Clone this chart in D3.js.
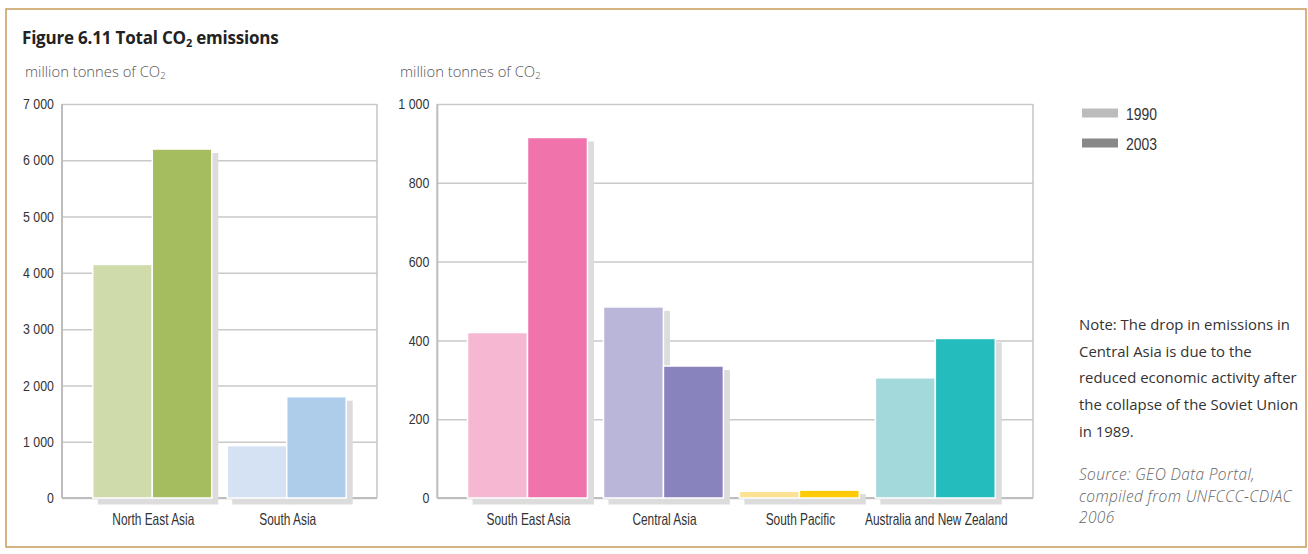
<!DOCTYPE html>
<html>
<head>
<meta charset="utf-8">
<script src="https://cdn.jsdelivr.net/npm/d3@7"></script>
<style>
  html, body { margin: 0; padding: 0; background: #fff; }
  svg { display: block; }
</style>
</head>
<body>
<svg id="chart" width="1308" height="554"></svg>
<script>
// ---- data ----
const seriesYears = ["1990", "2003"];
const leftCategories = ["North East Asia", "South Asia"];
const left1990 = [4150, 930];
const left2003 = [6200, 1800];
const leftTicks = [0, 1000, 2000, 3000, 4000, 5000, 6000, 7000];

const rightCategories = ["South East Asia", "Central Asia", "South Pacific", "Australia and New Zealand"];
const right1990 = [420, 485, 17, 305];
const right2003 = [915, 335, 20, 405];
const rightTicks = [0, 200, 400, 600, 800, 1000];

const leftColors1990 = ["#cfdbab", "#d4e2f3"];
const leftColors2003 = ["#a6bd5f", "#aecdeb"];
const rightColors1990 = ["#f5b7d2", "#bab6da", "#fde192", "#a3d9db"];
const rightColors2003 = ["#f073ab", "#8882bd", "#ffcb08", "#25bcbe"];
const legendColors = ["#bcbcbc", "#888888"];

const noteLines = ["Note: The drop in emissions in", "Central Asia is due to the",
  "reduced economic activity after", "the collapse of the Soviet Union", "in 1989."];
const sourceLines = ["Source: GEO Data Portal,", "compiled from UNFCCC-CDIAC", "2006"];

const fmt = v => d3.format(",")(v).replace(/,/g, " ");
const COND_FONT = "'Liberation Sans', Arial, sans-serif";
const GEO_FONT = "'Open Sans', sans-serif";

const svg = d3.select("#chart");

// measure helper for horizontal squeeze of condensed labels
function measure(text, size, family, weight) {
  const t = svg.append("text").attr("font-size", size).attr("font-family", family)
    .attr("font-weight", weight || "normal").text(text);
  const w = t.node().getComputedTextLength();
  t.remove();
  return w;
}
const TICK_SIZE = 14.5, CAT_SIZE = 16.5, LEG_SIZE = 17;
const K_TICK = 31 / measure("7 000", TICK_SIZE, COND_FONT);
const K_CAT = 82 / measure("North East Asia", CAT_SIZE, COND_FONT);
const K_LEG = 31 / measure("1990", LEG_SIZE, COND_FONT);

function condText(parent, x, y, txt, size, k, anchor) {
  return parent.append("text")
    .attr("transform", `translate(${x},${y}) scale(${k},1)`)
    .attr("font-family", COND_FONT).attr("font-size", size)
    .attr("text-anchor", anchor || "start").attr("fill", "#333").text(txt);
}

// frame
svg.append("rect").attr("x", 6).attr("y", 9).attr("width", 1300).attr("height", 538)
  .attr("fill", "none").attr("stroke", "#c99a5b").attr("stroke-width", 1.5);

// title
const title = svg.append("text").attr("x", 22).attr("y", 44)
  .attr("font-family", GEO_FONT).attr("font-weight", "bold")
  .attr("font-size", 17).attr("fill", "#222").attr("letter-spacing", -0.2);
title.append("tspan").text("Figure 6.11 Total CO");
title.append("tspan").text("2").attr("font-size", 11).attr("dy", 3);
title.append("tspan").text(" emissions").attr("dy", -3);

function subtitle(x) {
  const t = svg.append("text").attr("x", x).attr("y", 77)
    .attr("font-family", GEO_FONT).attr("font-size", 14.8).attr("font-weight", 300).attr("fill", "#555");
  t.append("tspan").text("million tonnes of CO");
  t.append("tspan").text("2").attr("font-size", 9.5).attr("dy", 2);
}
subtitle(25);
subtitle(400);

function panel(cfg) {
  const { x0, x1, cats, v90, v03, c90, c03, ticks, max, align, po, pi } = cfg;
  const yTop = 104, yBot = 498;
  const y = d3.scaleLinear().domain([0, max]).range([yBot, yTop]);
  const x = d3.scaleBand().domain(cats).range([x0, x1]).paddingInner(pi).paddingOuter(po).align(align);
  const xs = d3.scaleBand().domain(seriesYears).range([0, x.bandwidth()]);
  const g = svg.append("g");

  // gridlines
  g.append("g").attr("transform", `translate(${x0},0)`)
    .call(d3.axisLeft(y).tickValues(ticks).tickSize(-(x1 - x0)).tickFormat(""))
    .call(s => s.select(".domain").remove())
    .call(s => s.selectAll("line").attr("stroke", "#c9c9c9").attr("stroke-width", 1.5));
  // frame lines
  g.append("line").attr("x1", x1).attr("x2", x1).attr("y1", yTop).attr("y2", yBot)
    .attr("stroke", "#c4c4c4").attr("stroke-width", 1.5);
  g.append("line").attr("x1", x0).attr("x2", x0).attr("y1", yTop).attr("y2", yBot)
    .attr("stroke", "#bdbdbd").attr("stroke-width", 2);
  g.append("line").attr("x1", x0).attr("x2", x1).attr("y1", yBot).attr("y2", yBot)
    .attr("stroke", "#bdbdbd").attr("stroke-width", 2);

  // tick labels via axis, then squeezed
  g.append("g").attr("transform", `translate(${x0},0)`)
    .call(d3.axisLeft(y).tickValues(ticks).tickSize(0).tickPadding(8).tickFormat(fmt))
    .call(s => s.select(".domain").remove())
    .call(s => s.selectAll("text")
      .attr("font-family", COND_FONT).attr("font-size", TICK_SIZE).attr("fill", "#333")
      .attr("transform", `translate(-8,0) scale(${K_TICK},1)`).attr("x", 0));

  const rows = [];
  cats.forEach((c, i) => {
    rows.push({ cat: c, yr: "1990", v: v90[i], col: c90[i] });
    rows.push({ cat: c, yr: "2003", v: v03[i], col: c03[i] });
  });

  // shadows
  g.selectAll(".sh").data(rows).enter().append("rect")
    .attr("x", d => x(d.cat) + xs(d.yr) + 5)
    .attr("y", d => y(d.v) + 4)
    .attr("width", xs.bandwidth() + 1.5)
    .attr("height", d => yBot + 6.5 - (y(d.v) + 4))
    .attr("fill", "#dcdcdd");
  // bars
  g.selectAll(".bar").data(rows).enter().append("rect")
    .attr("x", d => x(d.cat) + xs(d.yr))
    .attr("y", d => y(d.v))
    .attr("width", xs.bandwidth())
    .attr("height", d => yBot - y(d.v))
    .attr("fill", d => d.col)
    .attr("stroke", "#fff").attr("stroke-width", 1.5);

  // category labels
  cats.forEach(c => condText(g, x(c) + x.bandwidth() / 2 + 1, 525, c, CAT_SIZE, K_CAT, "middle"));
}

panel({ x0: 62, x1: 377, cats: leftCategories, v90: left1990, v03: left2003,
  c90: leftColors1990, c03: leftColors2003, ticks: leftTicks, max: 7000,
  align: 0.5, po: 0.229, pi: 0.115 });
panel({ x0: 437.3, x1: 1033, cats: rightCategories, v90: right1990, v03: right2003,
  c90: rightColors1990, c03: rightColors2003, ticks: rightTicks, max: 1000,
  align: 0.445, po: 0.25, pi: 0.118 });

// legend
const lg = svg.append("g");
seriesYears.forEach((yr, i) => {
  const cy = 113 + i * 30;
  lg.append("rect").attr("x", 1082).attr("y", cy - 4.5).attr("width", 36).attr("height", 9)
    .attr("fill", legendColors[i]);
  condText(lg, 1126, cy + 6.5, yr, LEG_SIZE, K_LEG);
});

// note
noteLines.forEach((t, i) => {
  svg.append("text").attr("x", 1079).attr("y", 330 + i * 26.7)
    .attr("font-family", GEO_FONT).attr("font-size", 14.9).attr("fill", "#333").text(t);
});
sourceLines.forEach((t, i) => {
  svg.append("text").attr("x", 1079).attr("y", 480 + i * 21.7)
    .attr("font-family", GEO_FONT).attr("font-size", 15.5).attr("font-style", "italic")
    .attr("letter-spacing", 0.35).attr("font-weight", 300).attr("fill", "#666").text(t);
});
</script>
</body>
</html>
